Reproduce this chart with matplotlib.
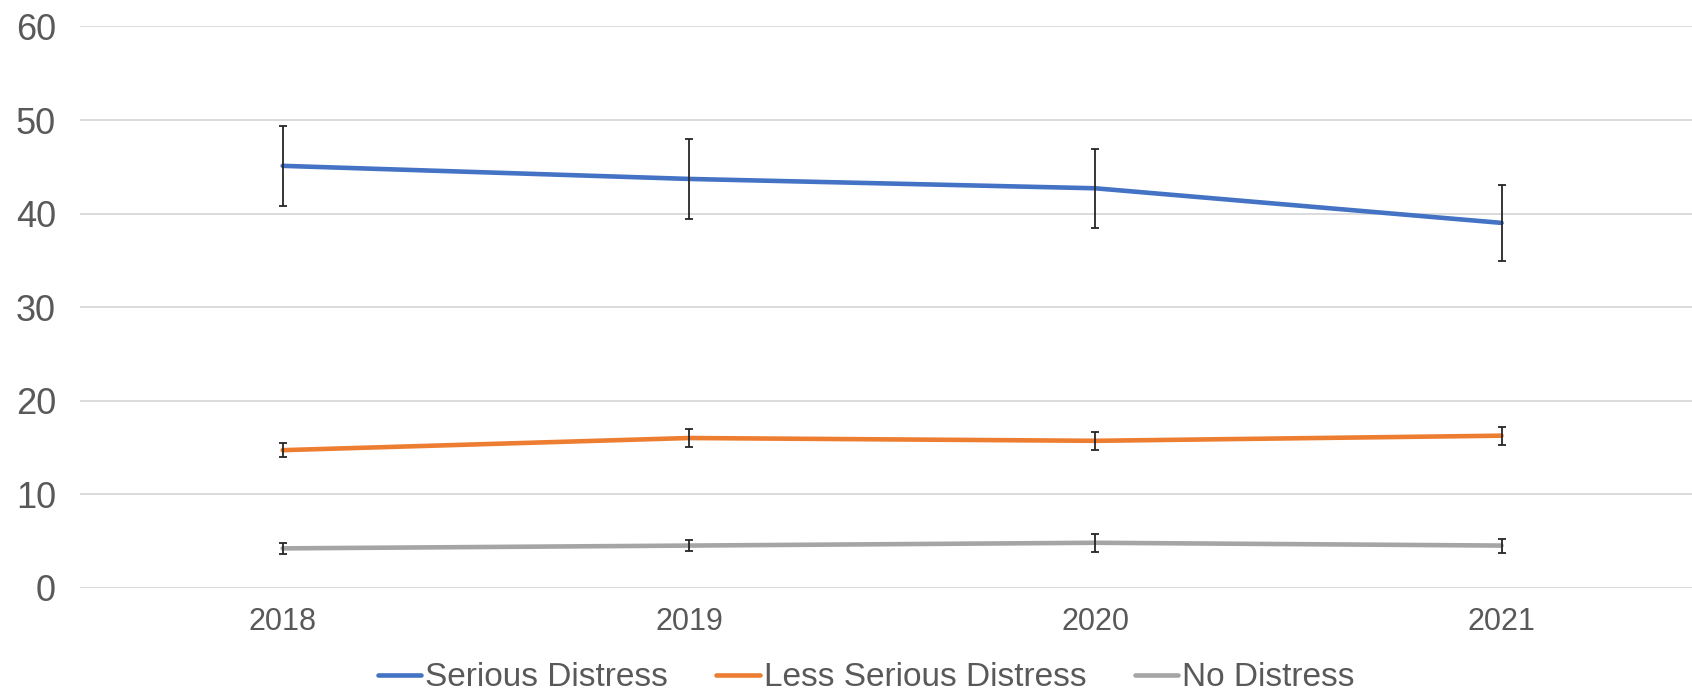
import matplotlib.pyplot as plt

# datos
years = ["2018", "2019", "2020", "2021"]
serious = [45.1, 43.7, 42.7, 39.0]
serious_err = [4.3, 4.3, 4.25, 4.1]
less_serious = [14.7, 16.0, 15.7, 16.25]
less_serious_err = [0.75, 0.95, 0.95, 0.95]
no_distress = [4.2, 4.5, 4.8, 4.5]
no_distress_err = [0.55, 0.55, 0.95, 0.75]

series = [
    ("Serious Distress", serious, serious_err, "#4472C4"),
    ("Less Serious Distress", less_serious, less_serious_err, "#ED7D31"),
    ("No Distress", no_distress, no_distress_err, "#A5A5A5"),
]

plt.rcParams['font.family'] = ['Liberation Sans', 'DejaVu Sans']

fig = plt.figure(figsize=(16.92, 6.93), dpi=100)
ax = fig.add_axes([79.5 / 1692, 0.152, 1625.2 / 1692, 0.8098])

x = list(range(len(years)))
for name, vals, errs, color in series:
    ax.plot(x, vals, color=color, lw=3.3, label=name, zorder=3,
            solid_capstyle='round')
    ax.errorbar(x, vals, yerr=errs, fmt='none', ecolor='#262626',
                elinewidth=1.3, capsize=3.2, capthick=1.3, zorder=4)

ax.set_xlim(-0.5, 3.5)
ax.set_ylim(0, 60)
ax.set_yticks(range(0, 61, 10))
ax.set_xticks(x)
ax.set_xticklabels(years)
ax.grid(axis='y', color='#d9d9d9', lw=1.3)
ax.set_axisbelow(True)
for s in ax.spines.values():
    s.set_visible(False)
ax.tick_params(axis='y', length=0, pad=17, labelsize=26, labelcolor='#595959')
ax.tick_params(axis='x', length=0, pad=14, labelsize=22, labelcolor='#595959')

fig.legend(loc='center', bbox_to_anchor=(866 / 1692, 0.022),
           ncol=3, frameon=False, fontsize=24, handlelength=1.3,
           handletextpad=0.12, columnspacing=1.45, borderpad=0,
           labelcolor='#595959')

fig.savefig("out.png", dpi=100)
